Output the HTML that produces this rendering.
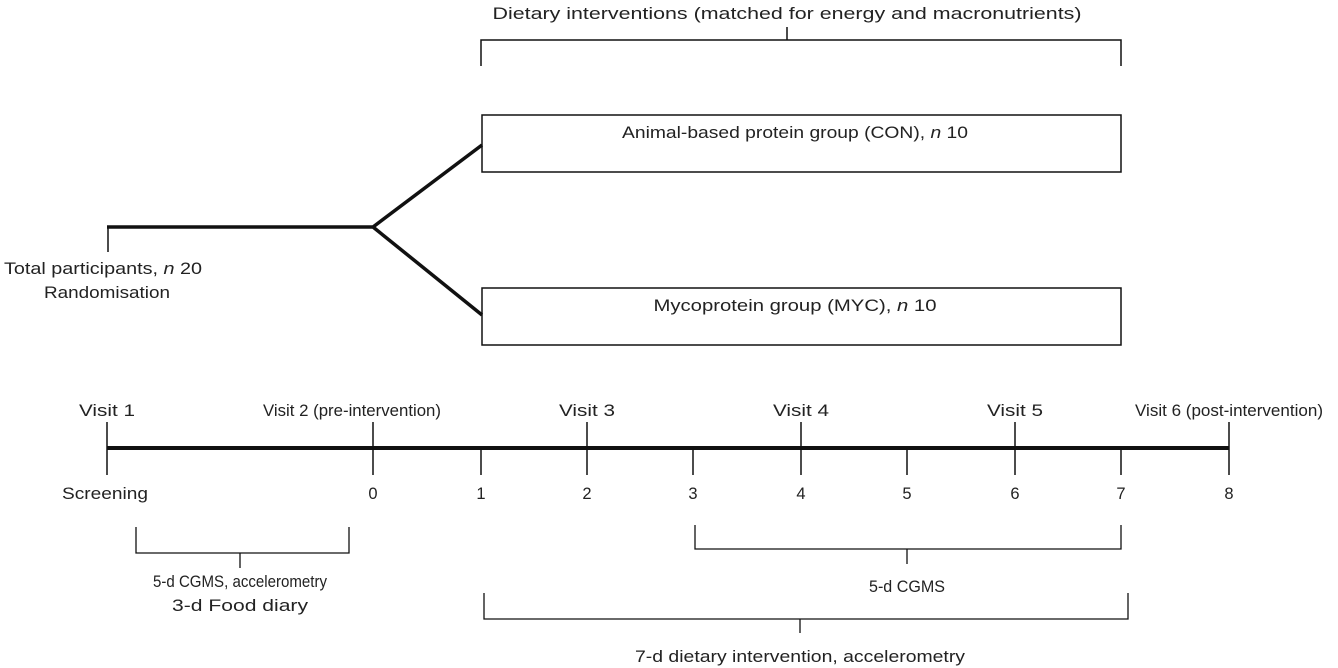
<!DOCTYPE html>
<html><head><meta charset="utf-8"><style>
html,body{margin:0;padding:0;background:#fff;}
svg{display:block;}
text{font-family:"Liberation Sans",sans-serif;font-size:16.5px;fill:#222;}
</style></head><body>
<svg width="1338" height="668" viewBox="0 0 1338 668" xmlns="http://www.w3.org/2000/svg">
<g stroke="#111" fill="none">
<path d="M481 66 V40 H1121 V66 M787 40 V27" stroke-width="1.5"/>
<rect x="482" y="115" width="639" height="57" stroke-width="1.5"/>
<rect x="482" y="288" width="639" height="57" stroke-width="1.5"/>
<path d="M107 227 H373 L482 145 M373 227 L482 315" stroke-width="3.5"/>
<path d="M108 227 V252" stroke-width="1.5"/>
<path d="M107 448 H1229" stroke-width="4"/>
<path d="M107 422 V475 M373 422 V475 M587 422 V475 M801 422 V475 M1015 422 V475 M1229 422 V475 M481 448 V475 M693 448 V475 M907 448 V475 M1121 448 V475" stroke-width="1.5"/>
<path d="M136 527 V553 H349 V527 M240 553 V568" stroke-width="1.3"/>
<path d="M695 525 V549 H1121 V525 M907 549 V564" stroke-width="1.3"/>
<path d="M484 593 V619 H1128 V593 M800 619 V633" stroke-width="1.3"/>
</g>
<g text-anchor="middle">
<text x="787" y="19" textLength="589" lengthAdjust="spacingAndGlyphs">Dietary interventions (matched for energy and macronutrients)</text>
<text x="795" y="138" textLength="346" lengthAdjust="spacingAndGlyphs">Animal-based protein group (CON), <tspan font-style="italic">n</tspan>  10</text>
<text x="795" y="311" textLength="283" lengthAdjust="spacingAndGlyphs">Mycoprotein group (MYC), <tspan font-style="italic">n</tspan>  10</text>
<text x="103" y="274" textLength="198" lengthAdjust="spacingAndGlyphs">Total participants, <tspan font-style="italic">n</tspan>  20</text>
<text x="107" y="298" textLength="126" lengthAdjust="spacingAndGlyphs">Randomisation</text>
<text x="107" y="416" textLength="56" lengthAdjust="spacingAndGlyphs">Visit 1</text>
<text x="352" y="416" textLength="178" lengthAdjust="spacingAndGlyphs">Visit 2 (pre-intervention)</text>
<text x="587" y="416" textLength="56" lengthAdjust="spacingAndGlyphs">Visit 3</text>
<text x="801" y="416" textLength="56" lengthAdjust="spacingAndGlyphs">Visit 4</text>
<text x="1015" y="416" textLength="56" lengthAdjust="spacingAndGlyphs">Visit 5</text>
<text x="1229" y="416" textLength="188" lengthAdjust="spacingAndGlyphs">Visit 6 (post-intervention)</text>
<text x="105" y="499" textLength="86" lengthAdjust="spacingAndGlyphs">Screening</text>
<text x="373" y="499">0</text>
<text x="481" y="499">1</text>
<text x="587" y="499">2</text>
<text x="693" y="499">3</text>
<text x="801" y="499">4</text>
<text x="907" y="499">5</text>
<text x="1015" y="499">6</text>
<text x="1121" y="499">7</text>
<text x="1229" y="499">8</text>
<text x="240" y="587" textLength="174" lengthAdjust="spacingAndGlyphs">5-d CGMS, accelerometry</text>
<text x="240" y="611" textLength="136" lengthAdjust="spacingAndGlyphs">3-d Food diary</text>
<text x="907" y="592" textLength="76" lengthAdjust="spacingAndGlyphs">5-d  CGMS</text>
<text x="800" y="662" textLength="330" lengthAdjust="spacingAndGlyphs">7-d dietary intervention, accelerometry</text>
</g>
</svg>
</body></html>
